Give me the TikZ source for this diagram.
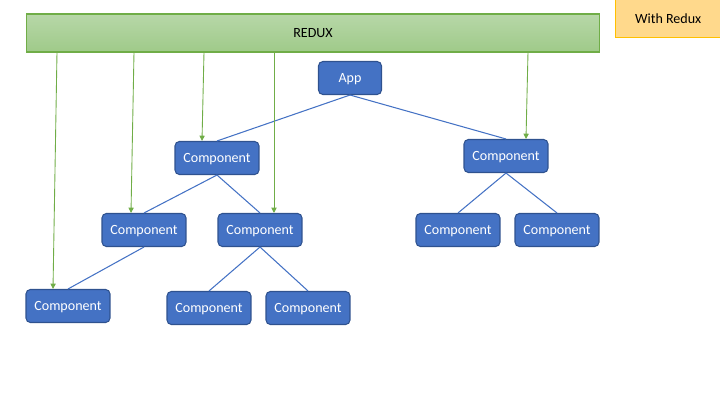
\documentclass[tikz,border=0pt]{standalone}
\usepackage{fontspec}
\setmainfont{Carlito}
\usepackage{tikz}
\usetikzlibrary{arrows.meta, calc}
\definecolor{CompBlue}{HTML}{4472C4}
\definecolor{CompEdge}{HTML}{2F528F}
\definecolor{ReduxGreen}{HTML}{70AD47}
\definecolor{ReduxTop}{HTML}{B7D7A8}
\definecolor{ReduxBottom}{HTML}{9FCA89}
\definecolor{NoteFill}{HTML}{FFD98C}
\definecolor{NoteEdge}{HTML}{FFC000}

\begin{document}
\begin{tikzpicture}[x=0.02cm, y=-0.02cm, every node/.style={font=\fontsize{8}{9}\selectfont},
	comp/.style={draw=CompEdge, fill=CompBlue, text=white, rounded corners=2.5pt, minimum width=1.68cm, minimum height=0.66cm, inner sep=0pt, line width=0.6pt, text depth=0.5pt},
	tree/.style={CompBlue, line width=0.6pt},
	store/.style={ReduxGreen, line width=0.5pt, -{Triangle[length=3pt, width=3pt]}}]
	\useasboundingbox (0,0) rectangle (720,405);
	
	\node[draw=ReduxGreen, top color=ReduxTop, bottom color=ReduxBottom, minimum width=11.48cm, minimum height=0.76cm, inner sep=0pt, line width=0.6pt] (redux) at (313,33) {REDUX};
	\node[draw=NoteEdge, fill=NoteFill, line width=0.8pt, minimum width=2.3cm, minimum height=0.76cm, inner sep=0pt, anchor=north west] (note) at (615,-1) {With Redux\hspace*{0.2cm}};
	
	\node[comp, minimum width=1.26cm] (app) at (350,78) {App};
	\node[comp] (c1a) at (217,158) {Component};
	\node[comp] (c1b) at (506,156) {Component};
	\node[comp] (c2a) at (144,230) {Component};
	\node[comp] (c2b) at (260,230) {Component};
	\node[comp] (c2c) at (458,230) {Component};
	\node[comp] (c2d) at (557,230) {Component};
	\node[comp] (c3a) at (68,306) {Component};
	\node[comp] (c3b) at (209,308) {Component};
	\node[comp] (c3c) at (308,308) {Component};
	
	\draw[tree] (app.south) -- (c1a.north);
	\draw[tree] (app.south) -- (c1b.north);
	\foreach \a/\b in {c1a/c2a, c1a/c2b, c2a/c3a, c2b/c3b, c2b/c3c, c1b/c2c, c1b/c2d}
		\draw[tree] (\a.south) -- (\b.north);
	
	\coordinate (s1) at (57,52);
	\coordinate (s2) at (134,52);
	\coordinate (s3) at (204,52);
	\coordinate (s4) at (274,52);
	\coordinate (s5) at (528,52);
	\draw[store] (s1) -- ($(c3a.north)+(-15,0)$);
	\draw[store] (s2) -- ($(c2a.north)+(-13,0)$);
	\draw[store] (s3) -- ($(c1a.north)+(-15,0)$);
	\draw[store] (s4) -- ($(c2b.north)+(14,0)$);
	\draw[store] (s5) -- ($(c1b.north)+(20,0)$);
\end{tikzpicture}
\end{document}
